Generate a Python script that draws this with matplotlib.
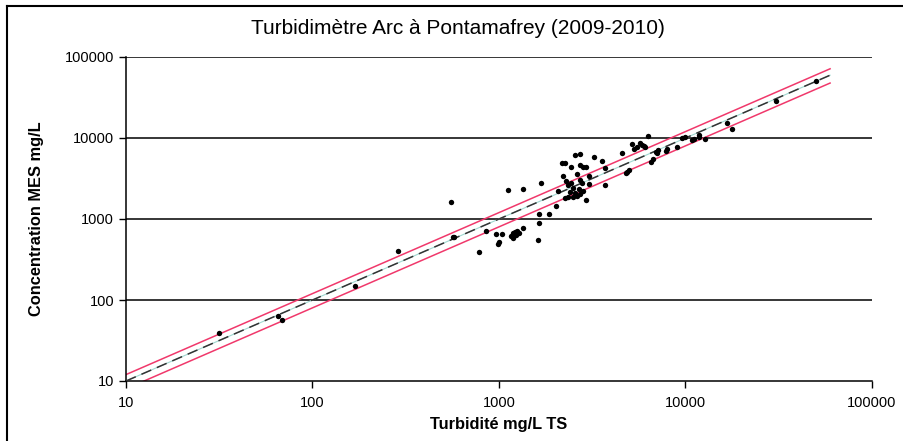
import matplotlib
matplotlib.use("Agg")
import matplotlib.pyplot as plt
from matplotlib.lines import Line2D
from matplotlib.ticker import FixedLocator, NullLocator

# Turbidity (mg/L TS) vs. suspended sediment concentration (mg/L)
turb = [31.6, 65, 69, 169, 289, 553, 565, 575, 782, 852,
        960, 1041, 1000, 991, 1160, 1187, 1220, 1256, 1288, 1195,
        1338, 1238, 1113, 1350, 1633, 1637, 1628, 1686, 1846, 2024,
        2083, 2170, 2259, 2556, 2716, 2444, 2716, 2830, 2930, 2200,
        2300, 2610, 2716, 2800, 2330, 2444, 2495, 2400, 2556, 2700,
        2830, 2930, 2260, 2355, 2480, 2610, 2716, 3020, 3020, 3230,
        3550, 3710, 3680, 4540, 4840, 5000, 4770, 5170, 5520, 5730,
        5960, 6330, 6560, 6700, 6930, 7140, 5270, 5860, 6100, 7050,
        7820, 8000, 9030, 9580, 10000, 10880, 11100, 11870, 11750, 12650,
        16730, 17800, 30400, 49800]
mes = [39, 63, 57, 149, 399, 1620, 604, 595, 392, 711,
       647, 653, 525, 488, 617, 665, 697, 716, 676, 578,
       782, 640, 2300, 2344, 885, 1153, 551, 2780, 1153, 1445,
       2234, 4877, 4877, 6170, 6350, 4430, 4640, 4430, 4430, 3400,
       2940, 3600, 3030, 2800, 2630, 2760, 2390, 2170, 2075, 2330,
       2234, 1718, 1815, 1885, 1885, 1940, 2020, 2700, 3400, 5780,
       5200, 4230, 2630, 6470, 3840, 4030, 3730, 8360, 7810, 8630,
       7960, 10600, 5090, 5460, 6780, 7110, 7240, 8200, 7800, 6470,
       6900, 7240, 7670, 9910, 10200, 9460, 9800, 10900, 10370, 9720,
       15460, 12800, 28900, 50900]

# 1:1 line and +/-20 % envelope
line_x = [10, 59600]
upper_k = 1.2
lower_k = 0.8

decades = [10, 100, 1000, 10000, 100000]
decade_labels = ["10", "100", "1000", "10000", "100000"]

plt.rcParams['font.family'] = ['Liberation Sans', 'DejaVu Sans']

fig = plt.figure(figsize=(9.04, 4.41), dpi=100)
ax = fig.add_axes([126/904, 1 - 381/441, 746/904, 324/441])

ax.set_xscale('log')
ax.set_yscale('log')
ax.set_xlim(10, 100000)
ax.set_ylim(10, 100000)

for d in decades[1:]:
    ax.axhline(d, color='black', lw=1.1, zorder=1)

ax.plot(line_x, [v * upper_k for v in line_x], color='#f0386b', lw=1.1, zorder=2)
ax.plot(line_x, [v * lower_k for v in line_x], color='#f0386b', lw=1.1, zorder=2)
ax.plot(line_x, line_x, color='#9fd8d0', lw=0.8, zorder=2)
ax.plot(line_x, line_x, color='#333333', lw=1.1, dashes=(7, 4), zorder=3)
ax.scatter(turb, mes, s=15, color='black', zorder=4, linewidths=0)

ax.xaxis.set_major_locator(FixedLocator(decades))
ax.yaxis.set_major_locator(FixedLocator(decades))
ax.xaxis.set_minor_locator(NullLocator())
ax.yaxis.set_minor_locator(NullLocator())
ax.set_xticklabels(decade_labels)
ax.set_yticklabels(decade_labels)
ax.tick_params(direction='out', length=5, width=1, labelsize=10.5, colors='black')
ax.tick_params(axis='x', pad=6)

ax.spines['top'].set_visible(False)
ax.spines['right'].set_visible(False)
ax.spines['left'].set_linewidth(1.1)
ax.spines['bottom'].set_linewidth(1.1)

ax.set_xlabel("Turbidité mg/L TS", fontsize=11.8, fontweight='bold', labelpad=5)
ax.set_ylabel("Concentration MES mg/L", fontsize=11.8, fontweight='bold', labelpad=15)
fig.text(458/904, 1 - 28/441, "Turbidimètre Arc à Pontamafrey (2009-2010)",
         ha='center', va='center', fontsize=15)

# outer chart frame (cropped on the right/bottom in the original)
fig.add_artist(Line2D([7/904, 7/904], [0, 1 - 6/441], color='black', lw=1.5,
                      transform=fig.transFigure))
fig.add_artist(Line2D([7/904, 1], [1 - 6/441, 1 - 6/441], color='black', lw=1.5,
                      transform=fig.transFigure))

fig.savefig("out.png", dpi=100)
